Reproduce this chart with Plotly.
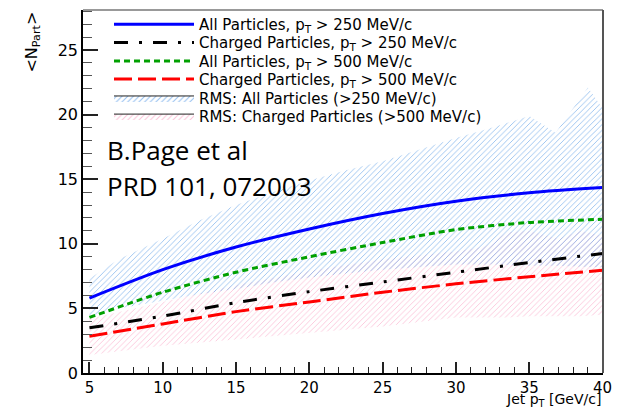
import plotly.graph_objects as go

# ---- data ----
x_curve = [5, 10, 15, 20, 25, 30, 35, 40]
all_250 = [5.8, 8.0, 9.75, 11.15, 12.35, 13.3, 13.95, 14.35]
chg_250 = [3.5, 4.4, 5.45, 6.3, 7.05, 7.8, 8.55, 9.25]
all_500 = [4.3, 6.25, 7.8, 9.0, 10.1, 11.1, 11.65, 11.9]
chg_500 = [2.85, 3.8, 4.75, 5.5, 6.25, 6.9, 7.45, 7.95]

x_rms_all = [5, 7, 10, 12.5, 15, 17.5, 20, 22.5, 25, 27.5, 30, 32.5, 35, 36.8, 39, 40]
rms_all_hi = [7.3, 8.8, 10.4, 11.8, 13.0, 14.0, 14.9, 15.7, 16.4, 17.3, 18.2, 19.0, 19.9, 18.6, 22.1, 20.5]
rms_all_lo = [4.3, 5.0, 5.6, 6.1, 6.5, 7.0, 7.4, 7.7, 8.0, 8.2, 8.4, 8.4, 8.3, 8.3, 8.2, 8.2]

x_rms_chg = [5, 10, 15, 20, 25, 30, 32, 33.5, 35, 37, 38.5, 40]
rms_chg_hi = [4.2, 5.5, 6.8, 7.9, 8.8, 9.4, 9.8, 10.9, 11.0, 10.4, 11.0, 10.6]
rms_chg_lo = [1.4, 2.1, 2.6, 3.1, 3.6, 4.3, 4.3, 4.3, 4.4, 4.4, 4.4, 4.5]

names = [
    "All Particles, p<sub>T</sub> &gt; 250 MeV/c",
    "Charged Particles, p<sub>T</sub> &gt; 250 MeV/c",
    "All Particles, p<sub>T</sub> &gt; 500 MeV/c",
    "Charged Particles, p<sub>T</sub> &gt; 500 MeV/c",
    "RMS: All Particles (&gt;250 MeV/c)",
    "RMS: Charged Particles (&gt;500 MeV/c)",
]

BLUE_HATCH = "rgba(120,175,235,0.8)"
PINK_HATCH = "rgba(250,170,200,0.7)"
FONT = "DejaVu Sans"

legend_ids = ["legend", "legend2", "legend3", "legend4", "legend5", "legend6"]
row_y = [0.960, 0.910, 0.859, 0.809, 0.757, 0.707]

fig = go.Figure()

# RMS bands (hatched)
fig.add_trace(go.Scatter(
    x=x_rms_chg + x_rms_chg[::-1], y=rms_chg_hi + rms_chg_lo[::-1],
    fill="toself", mode="lines", line=dict(width=0), fillcolor="rgba(0,0,0,0)",
    fillpattern=dict(shape="/", size=4, solidity=0.22, fgcolor=PINK_HATCH,
                     bgcolor="rgba(0,0,0,0)", fillmode="replace"),
    showlegend=False, hoverinfo="skip"))
fig.add_trace(go.Scatter(
    x=x_rms_all + x_rms_all[::-1], y=rms_all_hi + rms_all_lo[::-1],
    fill="toself", mode="lines", line=dict(width=0), fillcolor="rgba(0,0,0,0)",
    fillpattern=dict(shape="/", size=4, solidity=0.22, fgcolor=BLUE_HATCH,
                     bgcolor="rgba(0,0,0,0)", fillmode="replace"),
    showlegend=False, hoverinfo="skip"))

# mean curves
styles = [
    (all_250, "#0000ff", "solid"),
    (chg_250, "#000000", "14px,11px,3px,11px"),
    (all_500, "#00a000", "6px,4px"),
    (chg_500, "#ff0000", "18px,6px"),
]
for i, (yv, col, dash) in enumerate(styles):
    fig.add_trace(go.Scatter(
        x=x_curve, y=yv, mode="lines", name=names[i], legend=legend_ids[i],
        line=dict(color=col, width=3, dash=dash, shape="spline", smoothing=0.8)))

# legend proxies for hatched bands
for j, col in enumerate([BLUE_HATCH, PINK_HATCH]):
    fig.add_trace(go.Scatter(
        x=[None], y=[None], mode="lines", name=names[4 + j],
        legend=legend_ids[4 + j],
        fill="toself", fillcolor="rgba(0,0,0,0)",
        line=dict(color="#222", width=1),
        fillpattern=dict(shape="/", size=4, solidity=0.25, fgcolor=col,
                         bgcolor="rgba(0,0,0,0)", fillmode="replace")))

legend_layout = {}
for lid, yy in zip(legend_ids, row_y):
    legend_layout[lid] = dict(
        x=0.05, y=yy, xanchor="left", yanchor="middle",
        bgcolor="rgba(0,0,0,0)", borderwidth=0,
        font=dict(family=FONT, size=15, color="black"),
        itemwidth=80)

fig.update_layout(
    width=620, height=411,
    margin=dict(l=83, r=17, t=8, b=38),
    paper_bgcolor="white", plot_bgcolor="white",
    font=dict(family=FONT, color="black"),
    showlegend=True,
    xaxis=dict(range=[4.56, 40.03], showgrid=False, zeroline=False,
               showline=True, linecolor="black", linewidth=2,
               tickmode="linear", tick0=5, dtick=5,
               ticks="inside", ticklen=11, tickwidth=1.5, tickcolor="#222",
               minor=dict(dtick=1, tick0=5, ticks="inside", ticklen=6,
                          tickwidth=1.2, tickcolor="#222", showgrid=False),
               tickfont=dict(family=FONT, size=15)),
    yaxis=dict(range=[0, 28.1], showgrid=False, zeroline=False,
               showline=True, linecolor="black", linewidth=1.5,
               tickmode="linear", tick0=0, dtick=5,
               ticks="inside", ticklen=15, tickwidth=1.5, tickcolor="#222",
               minor=dict(dtick=1, ticks="inside", ticklen=9,
                          tickwidth=1.2, tickcolor="#555", showgrid=False),
               tickfont=dict(family=FONT, size=16)),
    shapes=[
        dict(type="line", xref="paper", yref="paper", x0=0, x1=1, y0=1, y1=1,
             line=dict(color="#999", width=2)),
        dict(type="line", xref="paper", yref="paper", x0=1, x1=1, y0=0, y1=1,
             line=dict(color="#555", width=2)),
    ],
    annotations=[
        dict(text="&lt;N<sub>Part</sub>&gt;", xref="paper", yref="paper",
             x=-0.098, y=1.0, xanchor="center", yanchor="top", textangle=-90,
             showarrow=False, font=dict(family=FONT, size=16)),
        dict(text="Jet p<sub>T</sub> [GeV/c]", xref="paper", yref="paper",
             x=1.0, y=-0.104, xanchor="right", yanchor="bottom",
             showarrow=False, font=dict(family=FONT, size=14)),
        dict(text="B.Page et al", xref="paper", yref="paper",
             x=0.042, y=0.614, xanchor="left", yanchor="middle", align="left",
             showarrow=False, font=dict(family="Open Sans", size=26)),
        dict(text="PRD 101, 072003", xref="paper", yref="paper",
             x=0.042, y=0.515, xanchor="left", yanchor="middle", align="left",
             showarrow=False, font=dict(family="Open Sans", size=26)),
    ],
    **legend_layout,
)

fig.write_html("out.html")
